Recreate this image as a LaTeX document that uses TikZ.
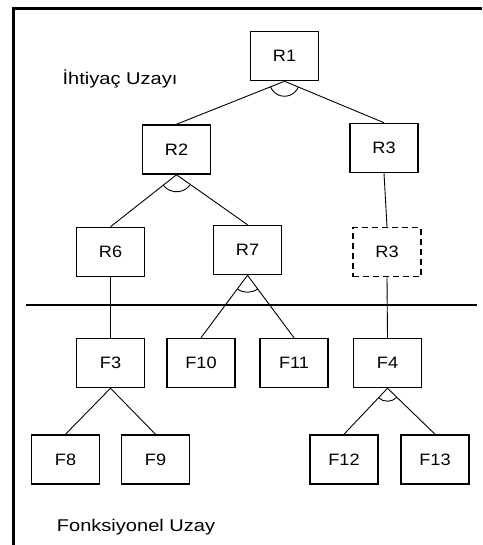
\documentclass[tikz,border=0pt]{standalone}
\usepackage{fontspec}
\setmainfont{Liberation Sans}
\newfontfamily\widesans[FakeStretch=1.18]{Liberation Sans}
\newfontfamily\boxsans[FakeStretch=1.1]{Liberation Sans}
\usetikzlibrary{angles}
\begin{document}
\begin{tikzpicture}[x=1pt,y=-1pt,
  box/.style={draw,line width=1.5pt,minimum width=68pt,minimum height=49pt,
    inner sep=0pt,font=\boxsans\fontsize{16.5}{19}\selectfont},
  dashedbox/.style={box,dash pattern=on 6pt off 4pt},
  link/.style={line width=0.9pt},
  andarc/.style={draw,line width=0.9pt,angle radius=#1},
  spacelabel/.style={font=\widesans\fontsize{17}{20}\selectfont,inner sep=0pt}]
\useasboundingbox (0,0) rectangle (482,545);

% frame on the left and top edges
\coordinate (frameBL) at (13.5,545);
\coordinate (frameTL) at (13.5,8.5);
\coordinate (frameTR) at (482,8.5);
\draw[line width=2.6pt] (frameBL) -- (frameTL) -- (frameTR);

% space labels
\node[spacelabel] (needspace) at (120,79) {İhtiyaç Uzayı};
\node[spacelabel] (funcspace) at (136,527) {Fonksiyonel Uzay};

% requirement boxes
\node[box] (r1) at (284.5,56) {R1};
\node[box] (r2) at (176.5,149.5) {R2};
\node[box] (r3) at (384,148) {R3};
\node[box] (r6) at (110.5,252) {R6};
\node[box] (r7) at (247.5,250) {R7};
\node[dashedbox] (r3b) at (387,252) {R3};

% function boxes
\node[box] (f3) at (110.5,363) {F3};
\node[box] (f10) at (201,363) {F10};
\node[box] (f11) at (294,363) {F11};
\node[box] (f4) at (387.5,363) {F4};
\node[box] (f8) at (65.5,459.5) {F8};
\node[box] (f9) at (155.5,459.5) {F9};
\node[box] (f12) at (344,459.5) {F12};
\node[box] (f13) at (435,459.5) {F13};

% divider between the two spaces
\coordinate (divL) at (26,305);
\coordinate (divR) at (477,305);
\draw[line width=1.3pt] (divL) -- (divR);

% anchor points for the connectors
\foreach \n in {r1,r2,r3,r6,r7,r3b,f3,f4}{\coordinate (\n S) at (\n.south);}
\foreach \n in {r2,r3,r6,r7,r3b,f3,f10,f11,f4,f8,f9,f12,f13}{\coordinate (\n N) at (\n.north);}

% decomposition links
\draw[link] (r1S) -- (r2N);
\draw[link] (r1S) -- (r3N);
\draw[link] (r2S) -- (r6N);
\draw[link] (r2S) -- (r7N);
\draw[link] (r3S) -- (r3bN);
\draw[link] (r6S) -- (f3N);
\draw[link] (r7S) -- (f10N);
\draw[link] (r7S) -- (f11N);
\draw[link] (r3bS) -- (f4N);
\draw[link] (f3S) -- (f8N);
\draw[link] (f3S) -- (f9N);
\draw[link] (f4S) -- (f12N);
\draw[link] (f4S) -- (f13N);

% AND arcs
\pic[andarc=15pt] {angle=r2N--r1S--r3N};
\pic[andarc=17pt] {angle=r6N--r2S--r7N};
\pic[andarc=17pt] {angle=f10N--r7S--f11N};
\pic[andarc=13pt] {angle=f12N--f4S--f13N};
\end{tikzpicture}
\end{document}
